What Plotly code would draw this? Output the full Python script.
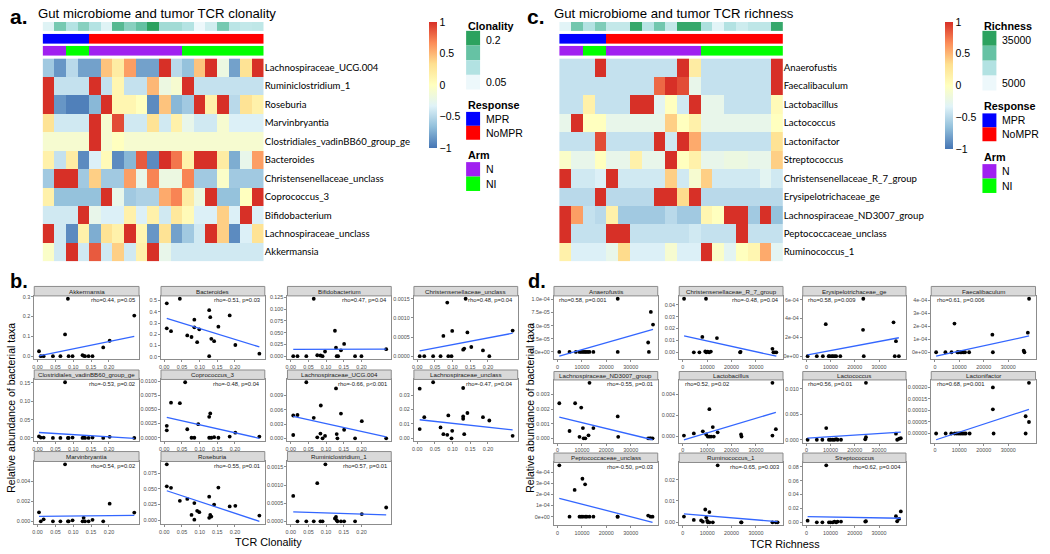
import numpy as np
import plotly.graph_objects as go

W, H = 1050, 554


def fx(p):
    return p / W


def fy(p):
    return 1 - p / H


# ------------------------------------------------------------------ heatmap data
response = ["MPR"] * 4 + ["NoMPR"] * 15
arm = ["N", "N", "NI", "NI"] + ["N"] * 8 + ["NI"] * 7
clonality = [0.02, 0.15, 0.08, 0.13, 0.08, 0.02, 0.19, 0.13, 0.17, 0.25,
             0.10, 0.10, 0.08, 0.0, 0.04, 0.15, 0.07, 0.06, 0.065]
richness = [5000, 24000, 14000, 22000, 11000, 11000, 35000, 13000, 24000, 11000,
            35000, 35000, 15000, 5000, 14000, 9000, 12000, 12000, 35000]

a_taxa = ["Lachnospiraceae_UCG.004", "Ruminiclostridium_1", "Roseburia", "Marvinbryantia",
          "Clostridiales_vadinBB60_group_ge", "Bacteroides", "Christensenellaceae_unclass",
          "Coprococcus_3", "Bifidobacterium", "Lachnospiraceae_unclass", "Akkermansia"]
a_values = [
    [-0.6, -0.85, -0.5, -0.8, -0.8, 0.45, 0.2, 0.6, -0.8, -0.8, 1, -0.5, -0.65, 0.45, 1, -0.2, -0.8, 0.3, 1],
    [1, -0.45, -0.45, -0.45, 1, -0.45, 0.1, -0.45, -0.45, 0.5, -0.2, -0.1, 1, -0.45, -0.45, -0.45, -0.45, -0.45, -0.45],
    [1, -0.85, -0.95, -0.95, -0.7, 1, 0.1, 0.1, 0.0, -0.9, 0.45, -0.7, -0.6, 1, 0.15, 1, -0.5, 0.3, 0.15],
    [0.3, -0.4, -0.4, -0.4, 1, -0.1, 0.9, -0.4, -0.4, 0.3, -0.4, 0.15, -0.25, -0.4, -0.4, -0.1, -0.35, -0.35, -0.35],
    [-0.1, -0.1, -0.1, -0.1, 1, -0.1, 0.0, -0.1, -0.1, -0.1, -0.1, -0.1, -0.1, -0.1, -0.1, -0.1, -0.1, -0.1, -0.1],
    [0.15, -0.45, 0.2, -0.9, -0.35, 0.05, -0.9, -0.7, 0.85, -0.9, 1, 0.75, 0.15, 1, 1, 0.2, -0.75, -0.25, 0.6],
    [-0.6, 1, 1, -0.6, 0.4, -0.6, -0.6, 0.6, -0.25, 0.7, -0.2, -0.2, 0.7, -0.6, -0.6, -0.05, -0.6, -0.6, -0.6],
    [0.15, -0.65, -0.65, -0.65, -0.65, 1, -0.25, -0.6, -0.55, -0.55, 0.55, 0.7, 0.2, -0.2, 1, -0.65, -0.65, 0.0, 1],
    [-0.4, -0.4, -0.4, 1, -0.25, -0.35, -0.35, 0.15, -0.35, 0.15, -0.4, 0.25, 0.05, -0.35, -0.35, 0.4, -0.35, 1, -0.35],
    [1, -0.4, -0.9, 0.15, -0.75, 0.3, 0.15, 1, 0.1, -0.85, 0.3, -0.8, -0.6, -0.4, 1, 0.4, -0.9, -0.35, 0.3],
    [-0.05, -0.4, 1, -0.4, 0.85, -0.4, 0.4, -0.4, 0.15, 1, -0.25, -0.4, -0.4, -0.4, -0.4, -0.4, -0.4, -0.4, -0.4],
]

c_taxa = ["Anaerofustis", "Faecalibaculum", "Lactobacillus", "Lactococcus", "Lactonifactor",
          "Streptococcus", "Christensenellaceae_R_7_group", "Erysipelotrichaceae_ge",
          "Lachnospiraceae_ND3007_group", "Peptococcaceae_unclass", "Ruminococcus_1"]
c_values = [
    [-0.45, -0.45, -0.45, 1, -0.45, -0.45, -0.45, -0.45, -0.45, -0.45, 1, 0.2, -0.45, -0.45, -0.45, -0.45, -0.45, -0.45, 1],
    [-0.45, -0.45, -0.45, -0.45, -0.45, -0.45, -0.45, -0.45, 0.8, 1, 0.9, -0.25, -0.45, -0.45, -0.45, -0.45, -0.45, -0.45, 1],
    [-0.45, -0.45, 0.15, -0.45, -0.45, -0.45, 1, 1, -0.3, 0.0, -0.4, 1, -0.25, -0.25, -0.45, -0.45, -0.45, -0.45, 0.05],
    [-0.25, 1, 0.0, 0.0, -0.25, -0.25, -0.25, -0.25, -0.25, 0.4, 0.0, 0.15, -0.25, -0.25, -0.25, -0.25, -0.25, -0.25, 0.0],
    [-0.45, -0.45, -0.45, 0.9, -0.45, -0.45, -0.45, -0.45, 1, -0.4, 1, 0.55, -0.45, -0.45, -0.45, -0.45, -0.45, -0.45, 0.3],
    [-0.05, -0.25, -0.25, 0.0, -0.25, -0.25, 0.15, -0.25, -0.25, 1, 0.0, 0.15, -0.25, -0.25, -0.2, -0.2, -0.25, -0.25, 0.4],
    [1, -0.4, -0.4, -0.35, 1, -0.4, -0.4, -0.4, -0.4, 0.4, -0.4, -0.1, 0.4, -0.4, -0.4, -0.4, -0.4, -0.3, -0.4],
    [-0.5, -0.5, -0.5, 1, -0.5, -0.5, -0.5, -0.5, 1, 1, 0.35, 1, -0.5, -0.5, -0.5, -0.5, -0.5, -0.5, -0.5],
    [1, 0.6, -0.45, -0.5, 0.15, -0.6, -0.6, -0.6, -0.6, -0.5, -0.6, -0.6, 0.1, 0.0, 1, 1, -0.6, 1, -0.65],
    [1, -0.45, -0.45, -0.45, 1, 1, -0.45, -0.45, -0.45, -0.45, -0.45, -0.4, -0.45, -0.45, -0.45, 1, -0.45, -0.45, -0.45],
    [0.15, -0.35, -0.35, -0.35, -0.25, 0.35, -0.35, -0.35, -0.35, -0.1, -0.35, -0.35, 1, -0.05, -0.3, 0.0, 0.1, 0.55, -0.3],
]

# ------------------------------------------------------------------ scatter data, panel b (x = TCR clonality)
b_akk_x = [0.004, 0.009, 0.017, 0.043, 0.064, 0.077, 0.085, 0.087, 0.098, 0.126, 0.129, 0.133, 0.143, 0.154, 0.184, 0.202, 0.271]
b_akk_y = [0.025, 0, 0, 0, 0, 0.11, 0.29, 0, 0, 0.005, 0.002, 0, 0, 0, 0.044, 0.078, 0.205]
b_bac_x = [0.007, 0.007, 0.019, 0.044, 0.065, 0.077, 0.085, 0.085, 0.093, 0.099, 0.127, 0.130, 0.127, 0.133, 0.141, 0.153, 0.185, 0.201, 0.269]
b_bac_y = [0.475, 0.253, 0.228, 0.515, 0.19, 0.176, 0.33, 0.262, 0.13, 0.244, 0.414, 0.352, 0.006, 0.16, 0.139, 0.268, 0.367, 0.105, 0.028]
b_bif_x = [0.007, 0.019, 0.044, 0.065, 0.075, 0.084, 0.090, 0.097, 0.125, 0.128, 0.130, 0.134, 0.142, 0.151, 0.182, 0.200, 0.270]
b_bif_y = [0, 0, 0, 0.122, 0.002, 0.0015, 0, 0.01, 0.054, 0.018, 0, 0, 0.0125, 0.026, 0, 0, 0.015]
b_chr_x = [0.007, 0.020, 0.045, 0.066, 0.074, 0.085, 0.088, 0.097, 0.099, 0.130, 0.133, 0.137, 0.142, 0.153, 0.186, 0.204, 0.270]
b_chr_y = [0, 0, 0, 0, 0.00053, 0.0014, 0, 0, 0.00066, 0.00017, 0.0002, 0.0015, 0.00062, 0.00024, 0.00015, 0, 0.00067]
b_clo_x = [0.004, 0.009, 0.017, 0.043, 0.064, 0.077, 0.085, 0.087, 0.098, 0.126, 0.129, 0.133, 0.143, 0.154, 0.184, 0.202, 0.271]
b_clo_y = [0.004, 0.001, 0.001, 0, 0, 0.152, 0, 0, 0.001, 0, 0.002, 0, 0, 0.001, 0, 0.003, 0]
b_cop_x = [0.007, 0.007, 0.019, 0.044, 0.059, 0.065, 0.077, 0.085, 0.096, 0.127, 0.127, 0.130, 0.133, 0.141, 0.153, 0.185, 0.201, 0.269]
b_cop_y = [0.0021, 0.0013, 0.0062, 0.0061, 0.0098, 0.0015, 0, 0, 0.0024, 0, 0.0037, 0.0043, 0, 0.0001, 0, 0.0002, 0.0009, 0.0002]
b_lucg_x = [0.044, 0.128, 0.085, 0.142, 0.007, 0.019, 0.007, 0.065, 0.075, 0.084, 0.090, 0.097, 0.130, 0.132, 0.151, 0.182, 0.201, 0.270]
b_lucg_y = [0.0118, 0.0105, 0.0069, 0.0052, 0.0048, 0.0049, 0.0007, 0.0043, 0.0002, 0.001, 0, 0.0005, 0.0009, 0, 0.0018, 0, 0.0036, 0]
b_lun_x = [0.045, 0.007, 0.130, 0.007, 0.020, 0.066, 0.074, 0.085, 0.088, 0.097, 0.099, 0.130, 0.130, 0.133, 0.142, 0.186, 0.204, 0.270]
b_lun_y = [0.039, 0.0345, 0.035, 0.0064, 0.0147, 0.0076, 0.0029, 0.0024, 0.0159, 0, 0.0052, 0.0152, 0.0136, 0.0029, 0.0176, 0.0147, 0.0124, 0.0017]
b_mar_x = [0.077, 0.004, 0.009, 0.017, 0.043, 0.064, 0.085, 0.087, 0.098, 0.126, 0.129, 0.133, 0.143, 0.154, 0.184, 0.202, 0.271]
b_mar_y = [0.0057, 0.0009, 0, 0.0002, 0, 0, 0, 0, 0.0001, 0, 0.00035, 0, 0, 0.00015, 0, 0.00176, 0.00087]
b_ros_x = [0.007, 0.007, 0.019, 0.044, 0.065, 0.077, 0.085, 0.085, 0.093, 0.099, 0.127, 0.127, 0.130, 0.133, 0.141, 0.153, 0.185, 0.201, 0.269]
b_ros_y = [0.089, 0.054, 0.0516, 0.031, 0.034, 0.0085, 0.0274, 0.001, 0.015, 0.013, 0.0376, 0.004, 0.0085, 0.006, 0.025, 0.052, 0.022, 0.023, 0.0075]
b_rum_x = [0.007, 0.098, 0.075, 0.019, 0.044, 0.065, 0.084, 0.090, 0.125, 0.128, 0.130, 0.132, 0.142, 0.151, 0.182, 0.201, 0.270]
b_rum_y = [0.0007, 0.00157, 0.00105, 0, 0, 0, 0, 0, 0.00008, 0.00012, 0.00003, 0, 0, 0, 0, 0.0002, 0.00038]

# fitted-line end values (at min x and max x)
b_fit_start = [0.002, 0.342, 0.0145, 0.00014, 0.0148, 0.0036, 0.0046, 0.0129, 0.0005, 0.047, 0.00026]
b_fit_end = [0.100, 0.088, 0.0150, 0.0006, -0.001, -0.0001, 0.0003, 0.0059, 0.0006, -0.0016, 0.00018]
b_names = ["Akkermansia", "Bacteroides", "Bifidobacterium", "Christensenellaceae_unclass",
           "Clostridiales_vadinBB60_group_ge", "Coprococcus_3", "Lachnospiraceae_UCG.004",
           "Lachnospiraceae_unclass", "Marvinbryantia", "Roseburia", "Ruminiclostridium_1"]
b_stats = ["rho=0.44, p=0.05", "rho=-0.51, p=0.03", "rho=0.47, p=0.04", "rho=0.48, p=0.04",
           "rho=-0.53, p=0.02", "rho=-0.48, p=0.04", "rho=-0.66, p<0.001", "rho=-0.47, p=0.04",
           "rho=0.54, p=0.02", "rho=-0.55, p=0.01", "rho=0.57, p=0.01"]
b_yticks = [[0, 0.1, 0.2, 0.3], [0, 0.1, 0.2, 0.3, 0.4, 0.5], [0, 0.025, 0.05, 0.075, 0.1, 0.125],
            [0, 0.0005, 0.001, 0.0015], [0, 0.05, 0.1, 0.15], [0, 0.0025, 0.005, 0.0075, 0.01],
            [0, 0.003, 0.006, 0.009], [0, 0.01, 0.02, 0.03], [0, 0.002, 0.004, 0.006],
            [0, 0.025, 0.05, 0.075], [0, 0.0005, 0.001, 0.0015]]
b_yfmt = [".1f", ".1f", ".3f", ".4f", ".2f", ".4f", ".3f", ".2f", ".3f", ".3f", ".4f"]
b_xticks = [0.0, 0.05, 0.10, 0.15, 0.20]
b_xticktext = ["0.00", "0.05", "0.10", "0.15", "0.20"]

# ------------------------------------------------------------------ scatter data, panel d (x = TCR richness)
d_ana_x = [700, 4900, 7500, 9000, 9700, 10400, 11100, 11700, 12400, 13100, 14700, 24700, 24700, 37200, 37500, 38300, 39200]
d_ana_y = [0, 0, 0, 0, 0, 0, 0, 0, 0, 0, 0, 0, 1.01e-4, 1.8e-5, 0, 7.6e-5, 5.2e-5]
d_chr_x = [500, 9500, 8000, 14000, 4500, 6800, 9200, 9600, 10200, 10800, 11500, 23500, 23700, 36800, 37200, 37800, 38400]
d_chr_y = [0.045, 0.045, 0.013, 0.012, 0, 0, 0.0008, 0, 0.0006, 0, 0.0007, 0, 0.0005, 0.003, 0, 0, 0]
d_ery_x = [500, 4300, 6800, 8000, 9200, 9600, 10500, 11000, 11700, 12300, 14000, 23500, 23400, 23700, 36000, 37000, 36500, 38200]
d_ery_y = [0, 0, 0, 3.4e-4, 0, 0, 0, 0, 0, 0, 0, 6.1e-4, 2.8e-4, 0, 3.6e-4, 1.6e-4, 0, 0]
d_fae_x = [500, 4300, 6800, 8000, 9200, 9600, 10500, 11000, 11700, 12300, 14000, 23500, 23700, 36300, 36600, 38000, 38500]
d_fae_y = [0, 0, 0, 2.2e-4, 0, 0, 0, 0, 0, 0, 0, 1.35e-4, 0, 1.2e-5, 0, 1.5e-4, 4.1e-4]
d_lnd_x = [700, 7200, 9700, 13100, 24700, 4900, 9000, 10400, 10700, 11400, 12700, 14700, 24900, 37200, 37900, 38300, 39000]
d_lnd_y = [0.0024, 0.0024, 0.0021, 0.0038, 0.0015, 0.0005, 0.0001, 0.0007, 0, 0, 0.0002, 0.0007, 0.0001, 0, 0, 0, 0]
d_lac_x = [36800, 10900, 440, 4500, 8200, 9600, 10250, 10900, 11600, 12300, 12700, 14300, 23900, 24100, 36800, 38200]
d_lac_y = [0.0051, 0.0026, 0.0001, 0.0003, 0.0005, 0.0002, 0, 0, 0, 0.0009, 0, 0.0004, 0.0002, 0, 0.0001, 0.0007]
d_lcc_x = [500, 4300, 6600, 8200, 9300, 10000, 10900, 11600, 12300, 12900, 14300, 24300, 24600, 24600, 37000, 37500, 38300, 39000]
d_lcc_y = [0, 0, 0, 0.0023, 0, 0, 0, 0, 0.0001, 0, 0, 0.0001, 0.0005, 0.0112, 0.0012, 0, 0.0002, 0.0003]
d_ltf_x = [38450, 23700, 23700, 500, 4400, 6700, 8100, 9000, 9800, 10500, 11200, 11900, 12600, 14200, 24000, 37100, 37100, 38450]
d_ltf_y = [0.00022, 0.0002, 0.000105, 0, 0, 0, 0, 0, 0, 0, 0, 0, 0, 0, 0, 0.000075, 0, 0.00005]
d_pep_x = [700, 10200, 11300, 7000, 4900, 9000, 9700, 10400, 11400, 12000, 13100, 14700, 24600, 24700, 37200, 38200, 39000]
d_pep_y = [4.6e-4, 3.4e-4, 2.9e-4, 2.4e-4, 0, 0, 0, 0, 0, 0, 0, 0, 0, 0, 1e-5, 0, 0]
d_rum_x = [14300, 9200, 10900, 440, 4500, 7500, 8200, 9600, 10000, 10250, 10900, 12300, 23900, 24100, 36800, 38200, 38900]
d_rum_y = [0.0267, 0.006, 0.0048, 0.0027, 0.0011, 0.0009, 0.0003, 0.0022, 0.0007, 0, 0, 0, 0, 0, 0, 0, 0]
d_str_x = [8200, 500, 4300, 6600, 9300, 10000, 10900, 11600, 12300, 12900, 14300, 24300, 24600, 37000, 37500, 38300, 39000]
d_str_y = [0.082, 0.0024, 0, 0, 0, 0, 0, 0.001, 0, 0.001, 0.001, 0.001, 0.0015, 0.0088, 0.0015, 0.005, 0.0156]

d_fit_start = [-8e-6, 0.0138, 1.4e-5, -3.0e-5, 0.00145, -0.0003, 0.0003, -0.000027, 1.65e-4, 0.004, 0.0082]
d_fit_end = [4.3e-5, -0.0032, 1.96e-4, 1.25e-4, -0.0001, 0.0023, 0.0015, 0.000105, -0.5e-4, 0.0003, 0.0058]
d_names = ["Anaerofustis", "Christensenellaceae_R_7_group", "Erysipelotrichaceae_ge", "Faecalibaculum",
           "Lachnospiraceae_ND3007_group", "Lactobacillus", "Lactococcus", "Lactonifactor",
           "Peptococcaceae_unclass", "Ruminococcus_1", "Streptococcus"]
d_stats = ["rho=0.58, p=0.001", "rho=-0.48, p=0.04", "rho=0.58, p=0.009", "rho=0.61, p=0.006",
           "rho=-0.55, p=0.01", "rho=0.52, p=0.02", "rho=0.56, p=0.01", "rho=0.68, p=0.001",
           "rho=-0.50, p=0.03", "rho=-0.65, p=0.003", "rho=0.62, p=0.004"]
d_stat_side = ["left", "right", "left", "left", "right", "left", "left", "left", "right", "right", "right"]
d_yticks = [[0, 2.5e-5, 5e-5, 7.5e-5, 1e-4], [0, 0.01, 0.02, 0.03, 0.04], [0, 2e-4, 4e-4, 6e-4],
            [0, 1e-4, 2e-4, 3e-4, 4e-4], [0, 0.001, 0.002, 0.003, 0.004], [0, 0.002, 0.004],
            [0, 0.005, 0.01], [0, 5e-5, 1e-4, 1.5e-4, 2e-4], [0, 1e-4, 2e-4, 3e-4, 4e-4],
            [0, 0.01, 0.02], [0, 0.02, 0.04, 0.06, 0.08]]
d_yfmt = [".1e", ".2f", ".0e", ".0e", ".3f", ".3f", ".3f", ".5f", ".0e", ".2f", ".2f"]
d_xticks = [0, 10000, 20000, 30000]
d_xticktext = ["0", "10000", "20000", "30000"]

# ------------------------------------------------------------------ style
RDYLBU = [[0.0, "#4575B4"], [1 / 6, "#91BFDB"], [2 / 6, "#E0F3F8"], [0.5, "#FFFFBF"],
          [4 / 6, "#FEE090"], [5 / 6, "#FC8D59"], [1.0, "#D73027"]]
GREENS = [[0.0, "#EDF8FB"], [0.33, "#B2E2E2"], [0.67, "#66C2A4"], [1.0, "#2CA25F"]]
GREEN_STEPS = ["#2CA25F", "#66C2A4", "#B2E2E2", "#EDF8FB"]
RESP_COL = {"MPR": "#0000FF", "NoMPR": "#FF0000"}
ARM_COL = {"N": "#A020F0", "NI": "#00FF00"}
SANS = "Liberation Sans"
LABEL_FONT = "Lato"
BORDER = "#8C8C8C"
TICK_GREY = "#4D4D4D"
SMALL = 5.4

fig = go.Figure()
axes = {}
count = {"x": 0, "y": 0}
shapes = []
annos = []


def add_axis(kind, domain, **kw):
    count[kind] += 1
    n = count[kind]
    key = f"{kind}axis" + ("" if n == 1 else str(n))
    ref = kind + ("" if n == 1 else str(n))
    axes[key] = dict(domain=domain, **kw)
    return ref, key


def text(x, y, s, size=11, bold=False, xanchor="left", yanchor="middle", family=SANS,
         color="#000000", angle=0):
    annos.append(dict(x=fx(x), y=fy(y), xref="paper", yref="paper", text=f"<b>{s}</b>" if bold else s,
                      showarrow=False, xanchor=xanchor, yanchor=yanchor, textangle=angle,
                      font=dict(family=family, size=size, color=color)))


def rect(x0, y0, x1, y1, fill, line=None, lw=0):
    shapes.append(dict(type="rect", xref="paper", yref="paper", x0=fx(x0), x1=fx(x1),
                       y0=fy(y1), y1=fy(y0), fillcolor=fill,
                       line=dict(color=line or fill, width=lw), layer="above"))


def heat_panel(x0, x1, taxa, values, ann_values, ann_scale, ann_range, cb_x, cb_top, cb_bottom):
    n = len(response)
    cols = list(range(n))
    xref, xkey = add_axis("x", [fx(x0), fx(x1)], range=[-0.5, n - 0.5], visible=False)
    ymain, _ = add_axis("y", [fy(260.7), fy(56.7)], anchor=xref, side="right", autorange="reversed",
                        ticks="", showline=False, showgrid=False, zeroline=False,
                        tickfont=dict(family=LABEL_FONT, size=9.6, color="#000000"))
    axes[xkey]["anchor"] = ymain
    bars = [(20, 29.5), (32, 42), (44, 54)]
    yrefs = []
    for top, bot in bars:
        r, _ = add_axis("y", [fy(bot), fy(top)], anchor=xref, visible=False, range=[-0.5, 0.5])
        yrefs.append(r)
    fig.add_trace(go.Heatmap(z=[ann_values], x=cols, y=[0], xaxis=xref, yaxis=yrefs[0],
                             colorscale=ann_scale, zmin=ann_range[0], zmax=ann_range[1],
                             showscale=False, hoverinfo="skip"))
    resp_codes = [0 if r == "MPR" else 1 for r in response]
    fig.add_trace(go.Heatmap(z=[resp_codes], x=cols, y=[0], xaxis=xref, yaxis=yrefs[1],
                             colorscale=[[0, RESP_COL["MPR"]], [0.5, RESP_COL["MPR"]],
                                         [0.5, RESP_COL["NoMPR"]], [1, RESP_COL["NoMPR"]]],
                             zmin=0, zmax=1, showscale=False, hoverinfo="skip"))
    arm_codes = [0 if a == "N" else 1 for a in arm]
    fig.add_trace(go.Heatmap(z=[arm_codes], x=cols, y=[0], xaxis=xref, yaxis=yrefs[2],
                             colorscale=[[0, ARM_COL["N"]], [0.5, ARM_COL["N"]],
                                         [0.5, ARM_COL["NI"]], [1, ARM_COL["NI"]]],
                             zmin=0, zmax=1, showscale=False, hoverinfo="skip"))
    fig.add_trace(go.Heatmap(z=values, x=cols, y=taxa, xaxis=xref, yaxis=ymain,
                             colorscale=RDYLBU, zmin=-1, zmax=1, hoverinfo="skip",
                             colorbar=dict(x=fx(cb_x), xanchor="left", y=fy(cb_top), yanchor="top",
                                           lenmode="pixels", len=cb_bottom - cb_top, thickness=8,
                                           thicknessmode="pixels", xpad=0, ypad=0, outlinewidth=0,
                                           tickvals=[-1, -0.5, 0, 0.5, 1],
                                           ticktext=["\u22121", "\u22120.5", "0", "0.5", "1"],
                                           ticks="", ticklabelposition="outside",
                                           tickfont=dict(family=SANS, size=10.5, color="#000000"))))


def heat_legend(lx, title, lab_hi, lab_lo, ys):
    tx = lx + 17.5
    text(lx, ys[0], title, size=10.8, bold=True)
    top = ys[0] + 5
    step = (ys[1] - top) / 4
    for i, col in enumerate(GREEN_STEPS):
        rect(lx, top + i * step, lx + 14, top + (i + 1) * step, col)
    text(tx, top + step * 0.6, lab_hi, size=10.5)
    text(tx, top + step * 3.5, lab_lo, size=10.5)
    text(lx, ys[2], "Response", size=10.8, bold=True)
    r0 = ys[2] + 7
    rect(lx, r0, lx + 14, r0 + 14, RESP_COL["MPR"])
    rect(lx, r0 + 14, lx + 14, r0 + 28, RESP_COL["NoMPR"])
    text(tx, r0 + 7, "MPR", size=10.5)
    text(tx, r0 + 21, "NoMPR", size=10.5)
    text(lx, ys[3], "Arm", size=10.8, bold=True)
    a0 = ys[3] + 7
    rect(lx, a0, lx + 14, a0 + 14.5, ARM_COL["N"])
    rect(lx, a0 + 14.5, lx + 14, a0 + 29, ARM_COL["NI"])
    text(tx, a0 + 7, "N", size=10.5)
    text(tx, a0 + 21.5, "NI", size=10.5)


heat_panel(40.7, 262.3, a_taxa, a_values, clonality, GREENS, [0.0, 0.25], 428.3, 20, 145.7)
heat_legend(465, "Clonality", "0.2", "0.05", [24, 88, 103.5, 154])
heat_panel(558.3, 782.3, c_taxa, c_values, richness, GREENS, [3000, 37000], 945, 20, 146.7)
heat_legend(982.3, "Richness", "35000", "5000", [24, 89, 105, 156])

text(6, 15, "a.", size=21, bold=True)
text(34, 11.5, "Gut microbiome and tumor TCR clonality", size=13.2)
text(524, 15, "c.", size=21, bold=True)
text(551, 11.5, "Gut microbiome and tumor TCR richness", size=13.2)


# ------------------------------------------------------------------ facet scatter panels
def padded(vals):
    lo, hi = float(np.min(vals)), float(np.max(vals))
    p = (hi - lo) * 0.05
    return [lo - p, hi + p]


def facet_panel(xs_list, ys_list, names, stats, sides, fstart, fend, yticks, yfmt,
                xticks, xticktext, cols, rows):
    xr = padded(np.concatenate([np.asarray(v, float) for v in xs_list]))
    for i, (xs, ys) in enumerate(zip(xs_list, ys_list)):
        c, r = i % 4, i // 4
        left, right = cols[c]
        stop, ptop, pbot = rows[r]
        xref, xkey = add_axis("x", [fx(left), fx(right)], range=xr, tickvals=xticks,
                              ticktext=xticktext, showline=True, mirror=True, linecolor=BORDER,
                              linewidth=1, ticks="outside", ticklen=2, tickcolor=BORDER,
                              tickfont=dict(family=SANS, size=SMALL, color=TICK_GREY),
                              showgrid=False, zeroline=False)
        yr = padded(list(ys) + [fstart[i], fend[i]])
        yref, ykey = add_axis("y", [fy(pbot), fy(ptop)], range=yr, anchor=xref,
                              tickvals=yticks[i], ticktext=[format(v, yfmt[i]) for v in yticks[i]],
                              showline=True, mirror=True, linecolor=BORDER, linewidth=1,
                              ticks="outside", ticklen=2, tickcolor=BORDER,
                              tickfont=dict(family=SANS, size=SMALL, color=TICK_GREY),
                              showgrid=False, zeroline=False)
        axes[xkey]["anchor"] = yref
        fig.add_trace(go.Scatter(x=xs, y=ys, mode="markers", xaxis=xref, yaxis=yref,
                                 marker=dict(color="#000000", size=3.8), hoverinfo="skip",
                                 cliponaxis=False))
        fig.add_trace(go.Scatter(x=[min(xs), max(xs)], y=[fstart[i], fend[i]], mode="lines",
                                 xaxis=xref, yaxis=yref, line=dict(color="#3366FF", width=1.3),
                                 hoverinfo="skip"))
        rect(left, stop, right, ptop, "#D9D9D9", BORDER, 1)
        text((left + right) / 2, (stop + ptop) / 2, names[i], size=6.2, xanchor="center",
             color="#1A1A1A")
        if sides[i] == "right":
            text(right - 2.5, ptop + 4.5, stats[i], size=5.8, xanchor="right", color="#1A1A1A")
        else:
            text(left + 3.5, ptop + 4.5, stats[i], size=5.8, xanchor="left", color="#1A1A1A")


b_xs = [b_akk_x, b_bac_x, b_bif_x, b_chr_x, b_clo_x, b_cop_x, b_lucg_x, b_lun_x, b_mar_x, b_ros_x, b_rum_x]
b_ys = [b_akk_y, b_bac_y, b_bif_y, b_chr_y, b_clo_y, b_cop_y, b_lucg_y, b_lun_y, b_mar_y, b_ros_y, b_rum_y]
facet_panel(b_xs, b_ys, b_names, b_stats, ["right"] * 11, b_fit_start, b_fit_end, b_yticks, b_yfmt,
            b_xticks, b_xticktext,
            [(32.3, 137.3), (159.3, 263.3), (286, 390), (412.7, 516.7)],
            [(286, 295.5, 359), (370, 379.5, 441.5), (452, 462, 525)])

d_xs = [d_ana_x, d_chr_x, d_ery_x, d_fae_x, d_lnd_x, d_lac_x, d_lcc_x, d_ltf_x, d_pep_x, d_rum_x, d_str_x]
d_ys = [d_ana_y, d_chr_y, d_ery_y, d_fae_y, d_lnd_y, d_lac_y, d_lcc_y, d_ltf_y, d_pep_y, d_rum_y, d_str_y]
facet_panel(d_xs, d_ys, d_names, d_stats, d_stat_side, d_fit_start, d_fit_end, d_yticks, d_yfmt,
            d_xticks, d_xticktext,
            [(553, 657), (678.5, 782.5), (802.3, 905.7), (931, 1035.5)],
            [(286, 295.5, 359), (371.5, 380, 443), (453.5, 463, 526)])

text(6, 281, "b.", size=20, bold=True)
text(525, 281, "d.", size=20, bold=True)
text(9, 408, "Relative abundance of bacterial taxa", size=10.5, xanchor="center", angle=-90)
text(529, 408, "Relative abundance of bacterial taxa", size=10.5, xanchor="center", angle=-90)
text(267.5, 543, "TCR Clonality", size=10.8, xanchor="center")
text(784, 545, "TCR Richness", size=10.8, xanchor="center")

fig.update_layout(width=W, height=H, margin=dict(l=0, r=0, t=0, b=0), autosize=False,
                  paper_bgcolor="white", plot_bgcolor="white", showlegend=False,
                  shapes=shapes, annotations=annos, **axes)
fig.write_html("out.html", config={"displayModeBar": False},
               post_script="document.body.style.margin='0';document.body.style.padding='0';"
                           "document.body.style.overflow='hidden';")
